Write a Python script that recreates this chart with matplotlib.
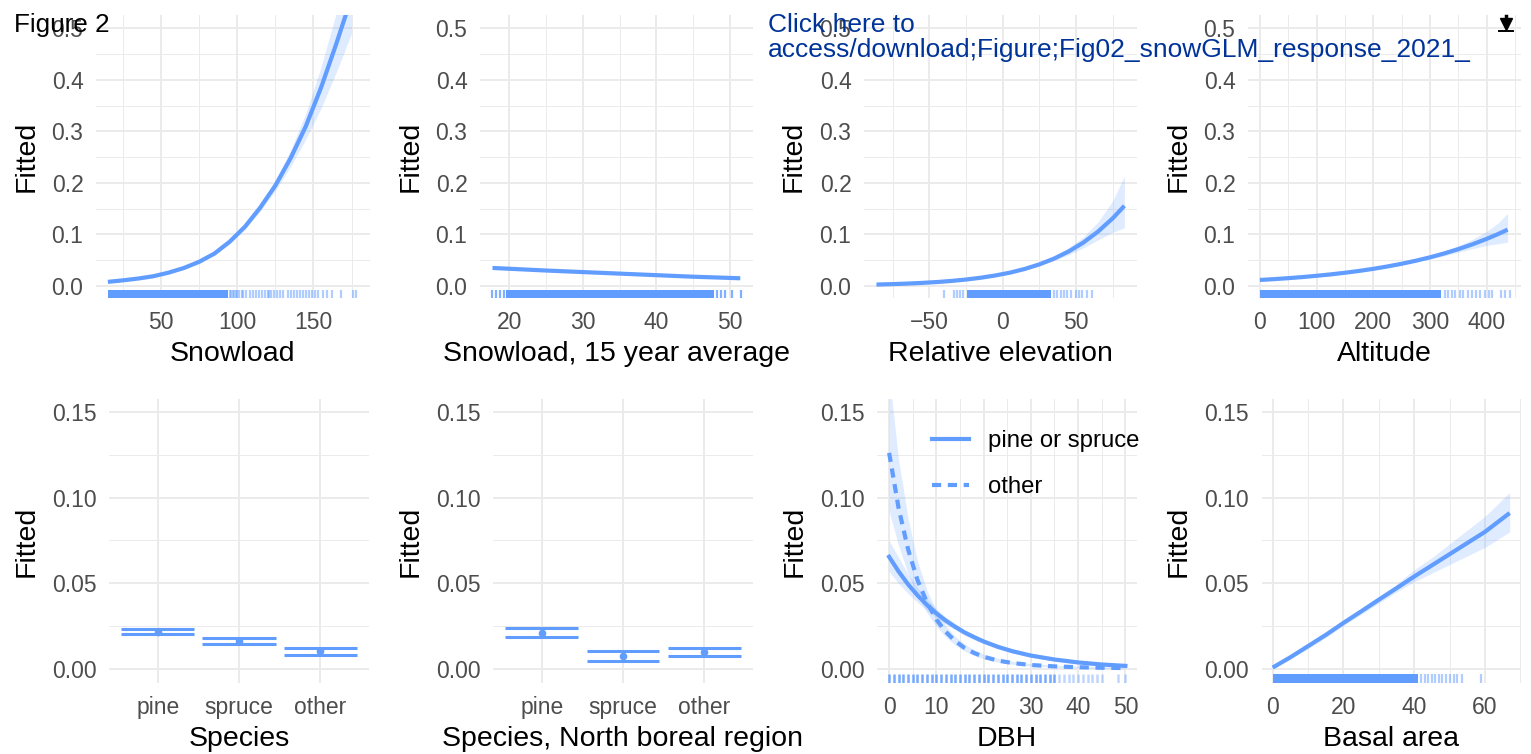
import numpy as np
import matplotlib.pyplot as plt
from matplotlib.lines import Line2D
from matplotlib.ticker import MultipleLocator, FixedLocator, FormatStrFormatter

plt.rcParams['font.family'] = ['Liberation Sans', 'DejaVu Sans']

W, H = 1531, 754
BLUE = '#619CFF'
GRID = '#EBEBEB'
TICK = '#4D4D4D'

# ==========================================
# Data
# ==========================================

# Snowload
snow_x = [15, 25, 35, 45, 55, 65, 75, 85, 95, 105, 115, 125, 135, 145, 155, 165, 175]
snow_y = [0.008, 0.011, 0.0145, 0.019, 0.026, 0.035, 0.047, 0.063, 0.086, 0.115,
          0.152, 0.195, 0.248, 0.31, 0.385, 0.47, 0.56]
snow_lo = [0.007, 0.010, 0.0135, 0.018, 0.025, 0.0335, 0.045, 0.060, 0.082, 0.110,
           0.145, 0.185, 0.232, 0.285, 0.345, 0.415, 0.49]
snow_hi = [0.009, 0.012, 0.0155, 0.020, 0.027, 0.0365, 0.049, 0.066, 0.090, 0.120,
           0.159, 0.205, 0.264, 0.335, 0.425, 0.53, 0.64]
snow_rug_solid = (15, 94)
snow_rug = [95, 96, 97, 98, 99, 100, 101, 103, 104, 106, 108, 110, 112, 114,
            116, 118, 120, 121, 122, 124, 126, 128, 130, 133, 135, 137, 139,
            141, 143, 145, 147, 149, 151, 153, 156, 159, 162, 168, 176, 178]

# Snowload, 15 year average
snow15_x = [17.7, 25, 30, 35, 40, 45, 51.4]
snow15_y = [0.035, 0.030, 0.027, 0.024, 0.021, 0.018, 0.015]
snow15_lo = [0.033, 0.029, 0.026, 0.023, 0.020, 0.017, 0.013]
snow15_hi = [0.037, 0.031, 0.028, 0.025, 0.022, 0.019, 0.017]
snow15_rug_solid = (19.6, 47.8)
snow15_rug = [17.6, 18.2, 18.7, 19.3, 48.2, 48.8, 49.3, 50.3, 51.5]

# Relative elevation
relel_x = [-86, -75, -65, -55, -45, -35, -25, -15, -5, 5, 15, 25, 35, 45, 55, 65, 75, 83]
relel_y = [0.0028, 0.00365, 0.00467, 0.00598, 0.00765, 0.00978, 0.0125, 0.0160,
           0.0204, 0.0259, 0.033, 0.0419, 0.0531, 0.067, 0.0842, 0.1055, 0.1312, 0.1555]
relel_lo = [0.0015, 0.0022, 0.0031, 0.0043, 0.0058, 0.0080, 0.0111, 0.0146, 0.0192,
            0.0245, 0.0312, 0.0393, 0.0490, 0.0605, 0.0740, 0.0895, 0.104, 0.113]
relel_hi = [0.0050, 0.0058, 0.0068, 0.0080, 0.0098, 0.0119, 0.0141, 0.0175, 0.0217,
            0.0273, 0.0350, 0.0447, 0.0578, 0.0745, 0.095, 0.124, 0.165, 0.213]
relel_rug_solid = (-24, 33)
relel_rug = [-40, -33, -31, -29, -27, 35, 37, 39.5, 42, 44, 46.4, 49.8, 52,
             54.3, 57.7, 61.1]

# Altitude
alt_x = [0, 25, 50, 75, 100, 125, 150, 175, 200, 225, 250, 275, 300, 325, 350,
         375, 400, 420, 437]
alt_y = [0.0117, 0.0133, 0.0152, 0.0173, 0.0198, 0.0225, 0.0257, 0.0292, 0.0333,
         0.0379, 0.0431, 0.0490, 0.0556, 0.0631, 0.0715, 0.0809, 0.0914, 0.1007, 0.1093]
alt_lo = [0.0105, 0.0121, 0.0140, 0.0162, 0.0188, 0.0215, 0.0247, 0.0282, 0.0322,
          0.0366, 0.0415, 0.0469, 0.0525, 0.0585, 0.0655, 0.0725, 0.079, 0.082, 0.085]
alt_hi = [0.0130, 0.0146, 0.0165, 0.0186, 0.0210, 0.0237, 0.0268, 0.0303, 0.0345,
          0.0393, 0.0448, 0.0512, 0.0590, 0.0680, 0.0780, 0.0905, 0.106, 0.122, 0.141]
alt_rug_solid = (0, 320)
alt_rug = [326, 332, 338, 344, 353, 359, 367, 375, 382, 388, 397, 404, 409,
           426, 432, 441]

# Species
species = ['pine', 'spruce', 'other']
sp_fit = [0.0220, 0.0165, 0.0104]
sp_lo = [0.0205, 0.0145, 0.0081]
sp_hi = [0.0233, 0.0182, 0.0126]

# Species, North boreal region
spn_fit = [0.0212, 0.0075, 0.0100]
spn_lo = [0.0186, 0.0050, 0.0077]
spn_hi = [0.0242, 0.0107, 0.0126]

# DBH
dbh_x = [0, 2, 4, 6, 8, 10, 12, 14, 16, 18, 20, 23, 26, 30, 35, 40, 45, 50]
dbh_ps = [0.0655, 0.0570, 0.0495, 0.0431, 0.0375, 0.0326, 0.0283, 0.0247, 0.0214,
          0.0187, 0.0162, 0.0131, 0.0106, 0.0080, 0.0057, 0.0040, 0.0028, 0.0020]
dbh_ps_lo = [0.057, 0.050, 0.0442, 0.0390, 0.0343, 0.0301, 0.0262, 0.0229, 0.0198,
             0.0172, 0.0149, 0.0119, 0.0095, 0.0070, 0.0048, 0.0032, 0.0020, 0.0012]
dbh_ps_hi = [0.075, 0.065, 0.0555, 0.0475, 0.0410, 0.0353, 0.0305, 0.0266, 0.0231,
             0.0203, 0.0176, 0.0144, 0.0118, 0.0091, 0.0067, 0.0050, 0.0038, 0.0030]
dbh_ot = [0.126, 0.094, 0.070, 0.052, 0.039, 0.029, 0.0218, 0.0164, 0.0124,
          0.0095, 0.0073, 0.0051, 0.0037, 0.0025, 0.0017, 0.0012, 0.0009, 0.0007]
dbh_ot_lo = [0.092, 0.072, 0.056, 0.043, 0.033, 0.025, 0.0188, 0.0141, 0.0106,
             0.0080, 0.0061, 0.0042, 0.0030, 0.0019, 0.0012, 0.0008, 0.0005, 0.0003]
dbh_ot_hi = [0.172, 0.122, 0.088, 0.063, 0.046, 0.034, 0.0253, 0.0191, 0.0146,
             0.0113, 0.0088, 0.0063, 0.0047, 0.0033, 0.0024, 0.0019, 0.0016, 0.0014]
dbh_rug = [0, 1, 2, 3, 4, 5, 6, 7, 8, 9, 10, 11, 12, 13, 14, 15, 16, 17, 18,
           19, 20, 21, 22, 23, 24, 25, 26, 27, 28, 29, 30, 31, 32, 33, 34, 35]
dbh_rug_sparse = [36, 37, 38, 39, 40, 41, 42, 43, 44, 45, 48.5, 50]

# Basal area
ba_x = [0, 5, 10, 15, 20, 25, 30, 35, 40, 45, 50, 55, 60, 67]
ba_y = [0.001, 0.007, 0.0135, 0.020, 0.027, 0.0337, 0.0405, 0.0472, 0.054, 0.0605,
        0.067, 0.0735, 0.080, 0.091]
ba_lo = [0.0005, 0.0062, 0.012, 0.0185, 0.0255, 0.032, 0.0385, 0.045, 0.051, 0.056,
         0.061, 0.066, 0.071, 0.080]
ba_hi = [0.0015, 0.0078, 0.0145, 0.0215, 0.0285, 0.0355, 0.0425, 0.0495, 0.058, 0.065,
         0.073, 0.081, 0.089, 0.103]
ba_rug_solid = (0, 41)
ba_rug = [42, 43, 44, 45, 46, 47, 48, 49, 50, 51.3, 52.2, 53.4, 58.8]

# ==========================================
# Figure and helpers
# ==========================================

fig = plt.figure(figsize=(W / 100, H / 100), dpi=100)
fig.patch.set_facecolor('white')


def add_ax(x0, x1, y0, y1):
    return fig.add_axes([x0 / W, 1 - y1 / H, (x1 - x0) / W, (y1 - y0) / H])


def style(ax, xlabel, xlim, ylim, xmaj, xmin, ymaj, ymin, yfmt):
    for s in ax.spines.values():
        s.set_visible(False)
    ax.set_xlim(*xlim)
    ax.set_ylim(*ylim)
    if isinstance(xmaj, list):
        ax.xaxis.set_major_locator(FixedLocator(xmaj))
    else:
        ax.xaxis.set_major_locator(MultipleLocator(xmaj))
        ax.xaxis.set_minor_locator(MultipleLocator(xmin))
    ax.yaxis.set_major_locator(MultipleLocator(ymaj))
    ax.yaxis.set_minor_locator(MultipleLocator(ymin))
    ax.yaxis.set_major_formatter(FormatStrFormatter(yfmt))
    ax.grid(which='major', color=GRID, lw=1.4)
    ax.grid(which='minor', color=GRID, lw=0.7)
    ax.set_axisbelow(True)
    ax.tick_params(which='both', length=0, labelsize=16.5, labelcolor=TICK)
    ax.tick_params(axis='x', pad=9.5)
    ax.tick_params(axis='y', pad=9)
    ax.set_xlabel(xlabel, fontsize=20.5, labelpad=5)
    ax.set_ylabel('Fitted', fontsize=20.5, labelpad=9)


def rug(ax, ticks, solid=None, alpha=0.5):
    tr = ax.get_xaxis_transform()
    if solid is not None:
        ax.axvspan(solid[0], solid[1], ymin=0, ymax=0.03, color=BLUE, lw=0, zorder=3)
    ax.vlines(ticks, 0, 0.03, transform=tr, color=BLUE, alpha=alpha, lw=1.6, zorder=3)


def curve(ax, x, y, lo, hi, ls='-'):
    ax.fill_between(x, lo, hi, color=BLUE, alpha=0.2, lw=0, zorder=2)
    ax.plot(x, y, color=BLUE, lw=3, ls=ls, zorder=4, solid_capstyle='butt')


TOP = (15, 298)
BOT = (399.3, 682.7)
YTOP = (-0.0233, 0.5258)
YBOT = (-0.0078, 0.1572)

# ==========================================
# Top row
# ==========================================

ax1 = add_ax(96, 369.5, *TOP)
curve(ax1, snow_x, snow_y, snow_lo, snow_hi)
rug(ax1, snow_rug, snow_rug_solid)
style(ax1, 'Snowload', (7.2, 186.8), YTOP, 50, 25, 0.1, 0.05, '%.1f')

ax2 = add_ax(480, 752.7, *TOP)
curve(ax2, snow15_x, snow15_y, snow15_lo, snow15_hi)
rug(ax2, snow15_rug, snow15_rug_solid, alpha=0.8)
style(ax2, 'Snowload, 15 year average', (16.0, 53.1), YTOP, 10, 5, 0.1, 0.05, '%.1f')

ax3 = add_ax(864, 1136.7, *TOP)
curve(ax3, relel_x, relel_y, relel_lo, relel_hi)
rug(ax3, relel_rug, relel_rug_solid)
style(ax3, 'Relative elevation', (-94.5, 91.4), YTOP, 50, 25, 0.1, 0.05, '%.1f')

ax4 = add_ax(1248, 1521, *TOP)
curve(ax4, alt_x, alt_y, alt_lo, alt_hi)
rug(ax4, alt_rug, alt_rug_solid)
style(ax4, 'Altitude', (-21, 460.6), YTOP, 100, 50, 0.1, 0.05, '%.1f')

# ==========================================
# Bottom row
# ==========================================


def species_panel(ax, fit, lo, hi, xlabel):
    pos = np.arange(1, len(species) + 1)
    ax.hlines(hi, pos - 0.45, pos + 0.45, color=BLUE, lw=2.2, zorder=4)
    ax.hlines(lo, pos - 0.45, pos + 0.45, color=BLUE, lw=2.2, zorder=4)
    ax.vlines(pos, lo, hi, color=BLUE, lw=2.2, zorder=4)
    ax.plot(pos, fit, 'o', color=BLUE, ms=4.5, zorder=5)
    style(ax, xlabel, (0.4, 3.6), YBOT, list(pos), None, 0.05, 0.025, '%.2f')
    ax.set_xticklabels(species)


ax5 = add_ax(109, 369, *BOT)
species_panel(ax5, sp_fit, sp_lo, sp_hi, 'Species')

ax6 = add_ax(493.3, 752.7, *BOT)
species_panel(ax6, spn_fit, spn_lo, spn_hi, 'Species, North boreal region')

ax7 = add_ax(877.3, 1136.7, *BOT)
ax7.fill_between(dbh_x, dbh_ot_lo, dbh_ot_hi, color=BLUE, alpha=0.2, lw=0, zorder=2)
ax7.fill_between(dbh_x, dbh_ps_lo, dbh_ps_hi, color=BLUE, alpha=0.2, lw=0, zorder=2)
ax7.plot(dbh_x, dbh_ps, color=BLUE, lw=3, zorder=4, label='pine or spruce')
ax7.plot(dbh_x, dbh_ot, color=BLUE, lw=3, ls=(0, (2.2, 1.6)), zorder=4, label='other')
tr7 = ax7.get_xaxis_transform()
ax7.vlines(dbh_rug, 0, 0.03, transform=tr7, color=BLUE, lw=1.8, alpha=0.85, zorder=3)
ax7.vlines(dbh_rug_sparse, 0, 0.03, transform=tr7, color=BLUE, lw=1.8, alpha=0.4, zorder=3)
style(ax7, 'DBH', (-2.5, 52.4), YBOT, 10, 5, 0.05, 0.025, '%.2f')
ax7.legend(loc='upper left', bbox_to_anchor=(0.21, 0.891), frameon=False,
           fontsize=17.2, handlelength=1.55, handletextpad=0.8, labelspacing=1.0,
           borderpad=0, borderaxespad=0)

ax8 = add_ax(1261.7, 1521, *BOT)
curve(ax8, ba_x, ba_y, ba_lo, ba_hi)
rug(ax8, ba_rug, ba_rug_solid)
style(ax8, 'Basal area', (-3.1, 70.2), YBOT, 20, 10, 0.05, 0.025, '%.2f')

# ==========================================
# Page annotations
# ==========================================

fig.text(14 / W, 1 - 32 / H, 'Figure 2', fontsize=18.8, color='black', va='baseline')
fig.text(768 / W, 1 - 32 / H, 'Click here to', fontsize=19, color='#003399', va='baseline')
fig.text(768 / W, 1 - 57 / H,
         'access/download;Figure;Fig02_snowGLM_response_2021_',
         fontsize=19, color='#003399', va='baseline')

# download icon
fig.add_artist(Line2D([1499 / W, 1513 / W], [1 - 31 / H, 1 - 31 / H],
                      color='black', lw=1.4, transform=fig.transFigure))
fig.add_artist(Line2D([1506 / W, 1506 / W], [1 - 16 / H, 1 - 21 / H],
                      color='black', lw=2.5, transform=fig.transFigure))
fig.add_artist(Line2D([1506 / W], [1 - 24 / H], marker='v', ms=8, color='black',
                      transform=fig.transFigure))

fig.savefig('out.png', dpi=100, facecolor='white')
